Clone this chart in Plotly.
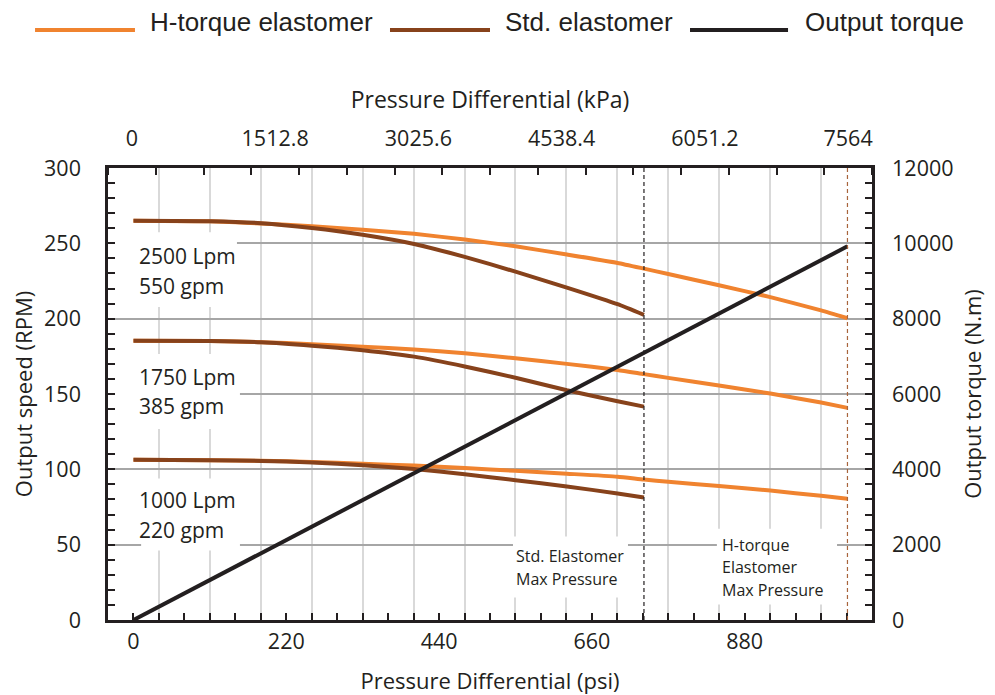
import plotly.graph_objects as go

# ---------------- data ----------------
psi_std = [0, 110, 184, 257, 330, 404, 477, 550, 624, 697, 735]
psi_ht = [0, 110, 184, 257, 330, 404, 477, 550, 624, 697, 735, 770, 843, 917, 990, 1028]

ht_2500 = [265, 264.6, 263.2, 261.3, 259.0, 256.3, 252.5, 248.0, 242.6, 237.0, 233.2, 229.6, 222.2, 214.3, 205.5, 200.3]
std_2500 = [265, 264.7, 263.4, 260.2, 255.7, 249.6, 241.0, 231.2, 220.6, 209.6, 202.5]
ht_1750 = [185.4, 185.2, 184.4, 183.1, 181.4, 179.5, 177.0, 173.7, 170.0, 166.0, 163.2, 160.7, 155.6, 150.3, 144.3, 140.8]
std_1750 = [185.4, 185.2, 184.4, 182.1, 179.1, 174.8, 168.3, 160.8, 152.5, 145.2, 141.6]
ht_1000 = [106.3, 106.1, 105.7, 104.9, 103.7, 102.5, 100.9, 99.0, 97.1, 95.1, 93.2, 91.8, 88.9, 85.9, 82.4, 80.4]
std_1000 = [106.3, 106.1, 105.6, 104.6, 102.7, 100.2, 96.7, 92.8, 88.6, 84.0, 81.3]

torque_psi = [0, 1028]
torque_nm = [0, 9920]

psi_label_step = 220
kpa_ticks = [0, 1512.8, 3025.6, 4538.4, 6051.2, 7564]
kpa_labels = ["0", "1512.8", "3025.6", "4538.4", "6051.2", "7564"]

legend_names = ["H-torque elastomer", "Std. elastomer", "Output torque"]
flow_labels = [("2500 Lpm", "550 gpm"), ("1750 Lpm", "385 gpm"), ("1000 Lpm", "220 gpm")]

# ---------------- styling ----------------
ORANGE = "#f0832f"
BROWN = "#87421b"
BLACK = "#231f20"
DASH_BROWN = "#a8643c"
TXT = "#231f20"
FONT = "Open Sans"

fig = go.Figure()

pairs = [(ht_2500, std_2500), (ht_1750, std_1750), (ht_1000, std_1000)]
for i, (ht, sd) in enumerate(pairs):
    fig.add_trace(go.Scatter(
        x=psi_ht, y=ht, mode="lines", name=legend_names[0], showlegend=False,
        line=dict(color=ORANGE, width=4, shape="spline", smoothing=0.5),
        hoverinfo="skip"))
    fig.add_trace(go.Scatter(
        x=psi_std, y=sd, mode="lines", name=legend_names[1], showlegend=False,
        line=dict(color=BROWN, width=4, shape="spline", smoothing=0.5),
        hoverinfo="skip"))

fig.add_trace(go.Scatter(
    x=torque_psi, y=torque_nm, mode="lines", name=legend_names[2], showlegend=False,
    yaxis="y2", line=dict(color=BLACK, width=4), hoverinfo="skip"))

# invisible helper so that the kPa axis (top) is drawn
fig.add_trace(go.Scatter(x=kpa_ticks, y=[None] * len(kpa_ticks), xaxis="x2", yaxis="y",
                         mode="markers", showlegend=False, hoverinfo="skip"))

# max-pressure dashed lines (at the ends of the series)
fig.add_shape(type="line", xref="x", yref="paper", x0=psi_std[-1], x1=psi_std[-1],
              y0=0, y1=1, line=dict(color=BLACK, width=1.2, dash="4px,3px"), layer="above")
fig.add_shape(type="line", xref="x", yref="paper", x0=psi_ht[-1], x1=psi_ht[-1],
              y0=0, y1=1, line=dict(color=DASH_BROWN, width=1.2, dash="4px,3px"), layer="above")

# white label boxes (cover gridlines only)
boxes = [(-29.5, 149, 207.7, 257.4), (-26.6, 153.3, 126.7, 176.5), (11, 153.3, 46.1, 93.9),
         (546.4, 712, 14.9, 55.4), (840, 1013, 10.3, 60.5)]
for x0, x1, y0, y1 in boxes:
    fig.add_shape(type="rect", xref="x", yref="y", x0=x0, x1=x1, y0=y0, y1=y1,
                  fillcolor="white", line=dict(width=0), layer="between")

label_y = [(241.7, 221.8), (161.1, 141.9), (79.9, 60.0)]
for (l1, l2), (y1, y2) in zip(flow_labels, label_y):
    for txt, yy in ((l1, y1), (l2, y2)):
        fig.add_annotation(x=4.9, y=yy, xref="x", yref="y", text=txt, showarrow=False,
                           xanchor="left", yanchor="middle",
                           font=dict(family=FONT, size=21, color=TXT))

for txt, yy in (("Std. Elastomer", 42.3), ("Max Pressure", 26.9)):
    fig.add_annotation(x=547.6, y=yy, xref="x", yref="y", text=txt, showarrow=False,
                       xanchor="left", yanchor="middle", font=dict(family=FONT, size=16, color=TXT))
for txt, yy in (("H-torque", 50.1), ("Elastomer", 35.0), ("Max Pressure", 20.2)):
    fig.add_annotation(x=844.3, y=yy, xref="x", yref="y", text=txt, showarrow=False,
                       xanchor="left", yanchor="middle", font=dict(family=FONT, size=16, color=TXT))

# legend drawn at the top (line samples + names)
legend_colors = [ORANGE, BROWN, BLACK]
legend_line_x = [(-0.0955, 0.0353), (0.3691, 0.5), (0.7618, 0.8901)]
legend_text_x = [0.0524, 0.5170, 0.9097]
for name, col, (lx0, lx1), tx in zip(legend_names, legend_colors, legend_line_x, legend_text_x):
    fig.add_shape(type="line", xref="paper", yref="paper", x0=lx0, x1=lx1, y0=1.3053, y1=1.3053,
                  line=dict(color=col, width=4))
    fig.add_annotation(x=tx, y=1.323, xref="paper", yref="paper", text=name, showarrow=False,
                       xanchor="left", yanchor="middle",
                       font=dict(family="Liberation Sans", size=26, color=TXT))

tickfont = dict(family=FONT, size=21.5, color=TXT)
titlefont = dict(family=FONT, size=22, color=TXT)
minor_step = psi_label_step / 6
psi_range = [-minor_step, 30 * minor_step - minor_step]
major_vals = [k * 2 * minor_step for k in range(15)]
major_text = [str(int(round(v))) if k % 3 == 0 else "" for k, v in enumerate(major_vals)]
kpa_step = kpa_ticks[-1] / 15
kpa_range = [-kpa_step / 2, kpa_ticks[-1] + kpa_step / 2]

tick_common = dict(ticks="inside", ticklen=7, tickwidth=2, tickcolor=BLACK)

# the page body adds an 8 px offset, so margins are shifted by 8 px
fig.update_layout(
    width=995, height=695,
    margin=dict(l=100, r=131, t=160, b=83, autoexpand=False),
    plot_bgcolor="white", paper_bgcolor="white",
    font=dict(family=FONT, color=TXT),
    showlegend=False,
    xaxis=dict(
        range=psi_range, tickmode="array", tickvals=major_vals, ticktext=major_text,
        **tick_common,
        minor=dict(tickmode="linear", tick0=minor_step, dtick=2 * minor_step, showgrid=True,
                   gridcolor="#d9d9d9", gridwidth=1.5, **tick_common),
        showline=True, linewidth=2.5, linecolor=BLACK, showgrid=False, zeroline=False,
        tickfont=tickfont, ticklabelstandoff=0,
        title=dict(text="Pressure Differential (psi)", font=titlefont, standoff=21),
    ),
    xaxis2=dict(
        overlaying="x", side="top", anchor="y", range=kpa_range,
        tickmode="array", tickvals=kpa_ticks, ticktext=kpa_labels, ticks="",
        minor=dict(tickmode="linear", tick0=-kpa_step / 2, dtick=kpa_step, showgrid=False,
                   **tick_common),
        showline=True, linewidth=2.5, linecolor=BLACK, showgrid=False, zeroline=False,
        tickfont=tickfont, ticklabelstandoff=11,
        title=dict(text="Pressure Differential (kPa)", font=dict(family=FONT, size=23, color=TXT),
                   standoff=8),
    ),
    yaxis=dict(
        range=[0, 300], tickmode="linear", tick0=0, dtick=50, **tick_common,
        minor=dict(tickmode="linear", tick0=0, dtick=10, showgrid=False, **tick_common),
        showline=True, linewidth=2.5, linecolor=BLACK,
        showgrid=True, gridcolor="#a6a6a6", gridwidth=1.5, zeroline=False,
        tickfont=tickfont, ticklabelstandoff=20,
        title=dict(text="Output speed (RPM)", font=titlefont, standoff=10),
    ),
    yaxis2=dict(
        overlaying="y", side="right", anchor="x", range=[0, 12000],
        tickmode="linear", tick0=0, dtick=2000, tickformat="d", **tick_common,
        minor=dict(tickmode="linear", tick0=0, dtick=400, showgrid=False, **tick_common),
        showline=True, linewidth=2.5, linecolor=BLACK, showgrid=False, zeroline=False,
        tickfont=tickfont, ticklabelstandoff=13,
        title=dict(text="Output torque (N.m)", font=titlefont, standoff=14),
    ),
)

fig.write_html("out.html")
